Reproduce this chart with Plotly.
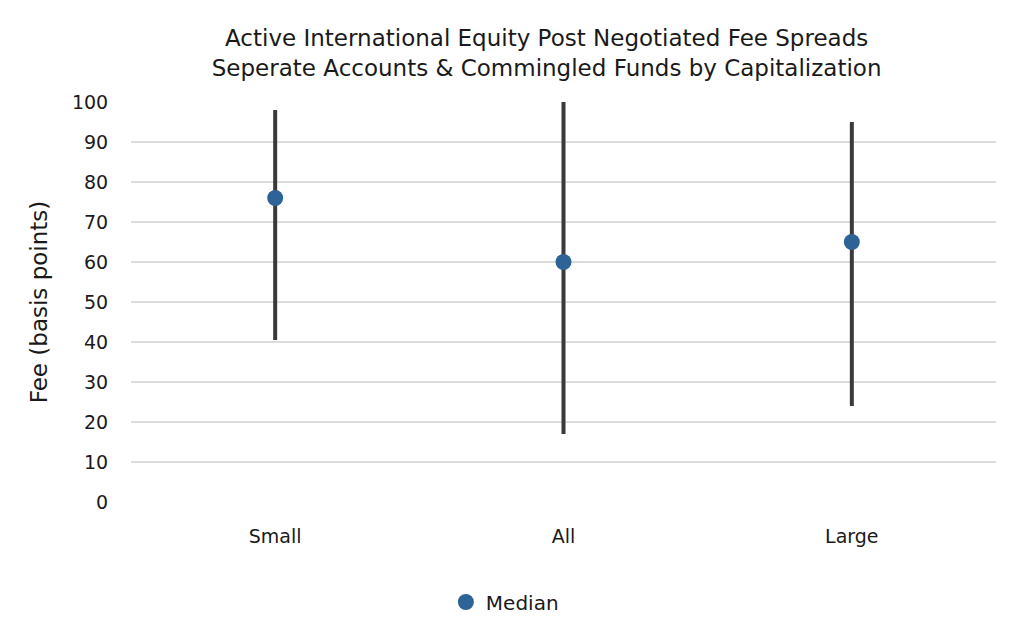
import plotly.graph_objects as go

categories = ["Small", "All", "Large"]
low_values = [40.5, 17, 24]
high_values = [98, 100, 95]
median_values = [76, 60, 65]
y_ticks = [0, 10, 20, 30, 40, 50, 60, 70, 80, 90, 100]

line_x, line_y = [], []
for c, lo, hi in zip(categories, low_values, high_values):
    line_x += [c, c, None]
    line_y += [lo, hi, None]

fig = go.Figure()
fig.add_trace(go.Scatter(
    x=line_x, y=line_y, mode="lines",
    line=dict(color="#3a3a3a", width=4),
    showlegend=False, hoverinfo="skip", cliponaxis=False,
))
fig.add_trace(go.Scatter(
    x=categories, y=median_values, mode="markers", name="Median",
    marker=dict(color="#2e6398", size=16),
    cliponaxis=False,
))

font_family = "'DejaVu Sans', sans-serif"
fig.update_layout(
    width=1024, height=638,
    margin=dict(l=123, r=36, t=94, b=144),
    paper_bgcolor="white", plot_bgcolor="white",
    font=dict(family=font_family, color="#1a1a1a", size=19),
    title=dict(
        text="Active International Equity Post Negotiated Fee Spreads<br>Seperate Accounts & Commingled Funds by Capitalization",
        x=0.526, xanchor="center", y=0.94, yanchor="middle",
        font=dict(size=23, family=font_family, color="#1a1a1a"),
    ),
    xaxis=dict(
        type="category", categoryorder="array", categoryarray=categories,
        range=[-0.5, 2.5], showgrid=False, zeroline=False, showline=False,
        ticks="outside", ticklen=17, tickcolor="rgba(0,0,0,0)",
        tickfont=dict(size=19),
    ),
    yaxis=dict(
        range=[0, 100], tickvals=y_ticks, showgrid=True,
        gridcolor="#dcdcdc", gridwidth=2, zeroline=False, showline=False,
        ticks="outside", ticklen=18, tickcolor="rgba(0,0,0,0)",
        tickfont=dict(size=19),
        title=dict(text="Fee (basis points)", font=dict(size=23), standoff=17),
    ),
    legend=dict(
        orientation="h", x=0.364, xanchor="left", y=-0.25, yanchor="middle",
        font=dict(size=20),
    ),
)

fig.write_html("out.html")
